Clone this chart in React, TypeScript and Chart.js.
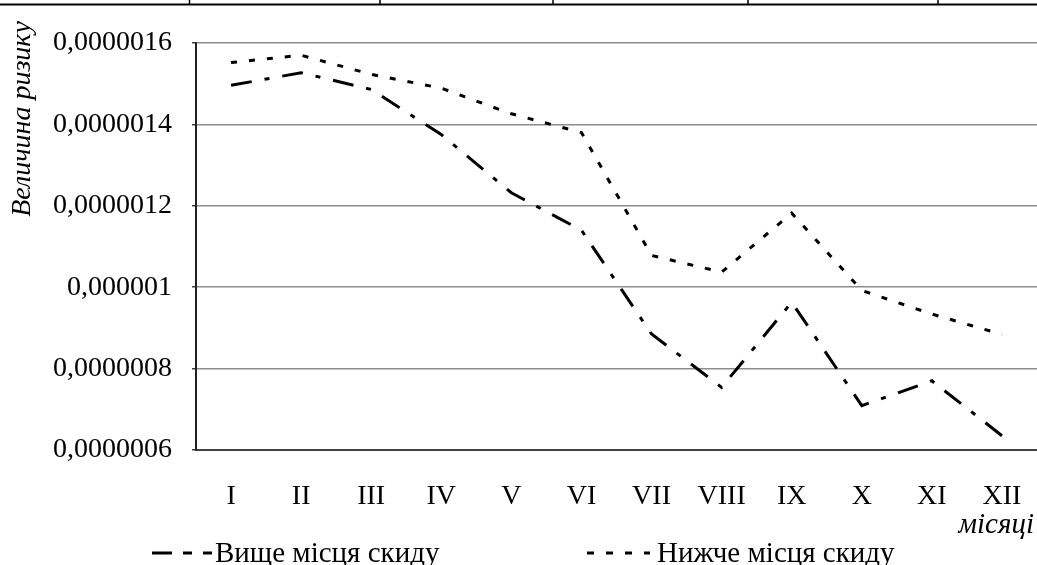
import React, { useEffect, useRef } from 'react';
import { Chart, registerables } from 'chart.js';

Chart.register(...registerables);

// ---- data ----
const months = ['I', 'II', 'III', 'IV', 'V', 'VI', 'VII', 'VIII', 'IX', 'X', 'XI', 'XII'];
const upstream = [1.496e-6, 1.527e-6, 1.486e-6, 1.375e-6, 1.232e-6, 1.14e-6, 0.885e-6, 0.754e-6, 0.963e-6, 0.709e-6, 0.77e-6, 0.635e-6];
const downstream = [1.552e-6, 1.57e-6, 1.523e-6, 1.489e-6, 1.426e-6, 1.38e-6, 1.078e-6, 1.037e-6, 1.182e-6, 0.992e-6, 0.934e-6, 0.884e-6];
const seriesNames = ['Вище місця скиду', 'Нижче місця скиду'];
const yTickLabels = ['0,0000006', '0,0000008', '0,000001', '0,0000012', '0,0000014', '0,0000016'];
const yMin = 0.6e-6;
const yMax = 1.6e-6;
const yStep = 0.2e-6;
const yTitle = 'Величина ризику';
const xTitle = 'місяці';

const FONT = '"Liberation Serif", "Times New Roman", serif';
const upDash = [21, 13, 5, 13];
const downDash = [6, 12];

const decorPlugin = {
  id: 'decor',
  afterDraw(chart: any) {
    const ctx = chart.ctx as CanvasRenderingContext2D;
    ctx.save();
    // fragment of the table above
    ctx.strokeStyle = '#000';
    ctx.lineWidth = 2;
    ctx.beginPath();
    ctx.moveTo(0, 4.5);
    ctx.lineTo(1037, 4.5);
    ctx.stroke();
    ctx.lineWidth = 1.5;
    [189.5, 380, 553, 748, 938].forEach((x) => {
      ctx.beginPath();
      ctx.moveTo(x, 0);
      ctx.lineTo(x, 4);
      ctx.stroke();
    });

    // y title
    ctx.fillStyle = '#000';
    ctx.save();
    ctx.translate(30, 119);
    ctx.rotate(-Math.PI / 2);
    ctx.font = `italic 28px ${FONT}`;
    ctx.textAlign = 'center';
    ctx.textBaseline = 'alphabetic';
    ctx.fillText(yTitle, 0, 0);
    ctx.restore();

    // x title
    ctx.font = `italic 29px ${FONT}`;
    ctx.textAlign = 'right';
    ctx.textBaseline = 'alphabetic';
    ctx.fillText(xTitle, 1034, 533);

    // legend
    const items = [
      { x0: 152, x1: 212, tx: 215, dash: [20, 11, 9, 11], name: seriesNames[0] },
      { x0: 587, x1: 650, tx: 657, dash: [7, 12], name: seriesNames[1] },
    ];
    items.forEach((it) => {
      ctx.strokeStyle = '#000';
      ctx.lineWidth = 3;
      ctx.lineCap = 'butt';
      ctx.setLineDash(it.dash);
      ctx.beginPath();
      ctx.moveTo(it.x0, 553);
      ctx.lineTo(it.x1, 553);
      ctx.stroke();
      ctx.setLineDash([]);
      ctx.font = `29px ${FONT}`;
      ctx.textAlign = 'left';
      ctx.fillText(it.name, it.tx, 562);
    });
    ctx.restore();
  },
};

export default function App() {
  const ref = useRef<HTMLCanvasElement | null>(null);
  useEffect(() => {
    if (!ref.current) return;
    const chart = new Chart(ref.current, {
      type: 'line',
      data: {
        labels: months,
        datasets: [
          {
            label: seriesNames[0],
            data: upstream,
            borderColor: '#000',
            borderWidth: 3,
            borderDash: upDash,
            borderCapStyle: 'butt',
            pointRadius: 0,
            tension: 0,
            fill: false,
          },
          {
            label: seriesNames[1],
            data: downstream,
            borderColor: '#000',
            borderWidth: 3,
            borderDash: downDash,
            borderCapStyle: 'butt',
            pointRadius: 0,
            tension: 0,
            fill: false,
          },
        ],
      },
      options: {
        responsive: false,
        animation: false,
        layout: { padding: { top: 43, left: 0, right: 0, bottom: 0 } },
        plugins: { legend: { display: false }, tooltip: { enabled: false }, title: { display: false } },
        scales: {
          x: {
            type: 'category',
            offset: true,
            grid: { display: false, drawTicks: false },
            border: { display: true, color: '#404040', width: 2 },
            ticks: { color: '#000', font: { family: FONT, size: 28 }, padding: 30, maxRotation: 0, autoSkip: false },
            afterFit: (s: any) => { s.height = 115; s.paddingLeft = 0; s.paddingRight = 0; },
          },
          y: {
            min: yMin,
            max: yMax,
            grid: { color: '#8c8c8c', lineWidth: 1.5, drawTicks: true, tickLength: 4, tickColor: '#404040' },
            border: { display: true, color: '#202020', width: 2 },
            ticks: {
              stepSize: yStep,
              color: '#000',
              font: { family: FONT, size: 28 },
              padding: 20,
              callback: (v: any) => yTickLabels[Math.round((Number(v) - yMin) / yStep)] ?? '',
            },
            afterFit: (s: any) => { s.width = 196; s.paddingTop = 0; s.paddingBottom = 0; },
          },
        },
      },
      plugins: [decorPlugin],
    });
    return () => chart.destroy();
  }, []);
  return (
    <div style={{ position: 'absolute', left: 0, top: 0, width: 1037, height: 565, background: '#fff' }}>
      <canvas ref={ref} width={1037} height={565} style={{ display: 'block' }} />
    </div>
  );
}
